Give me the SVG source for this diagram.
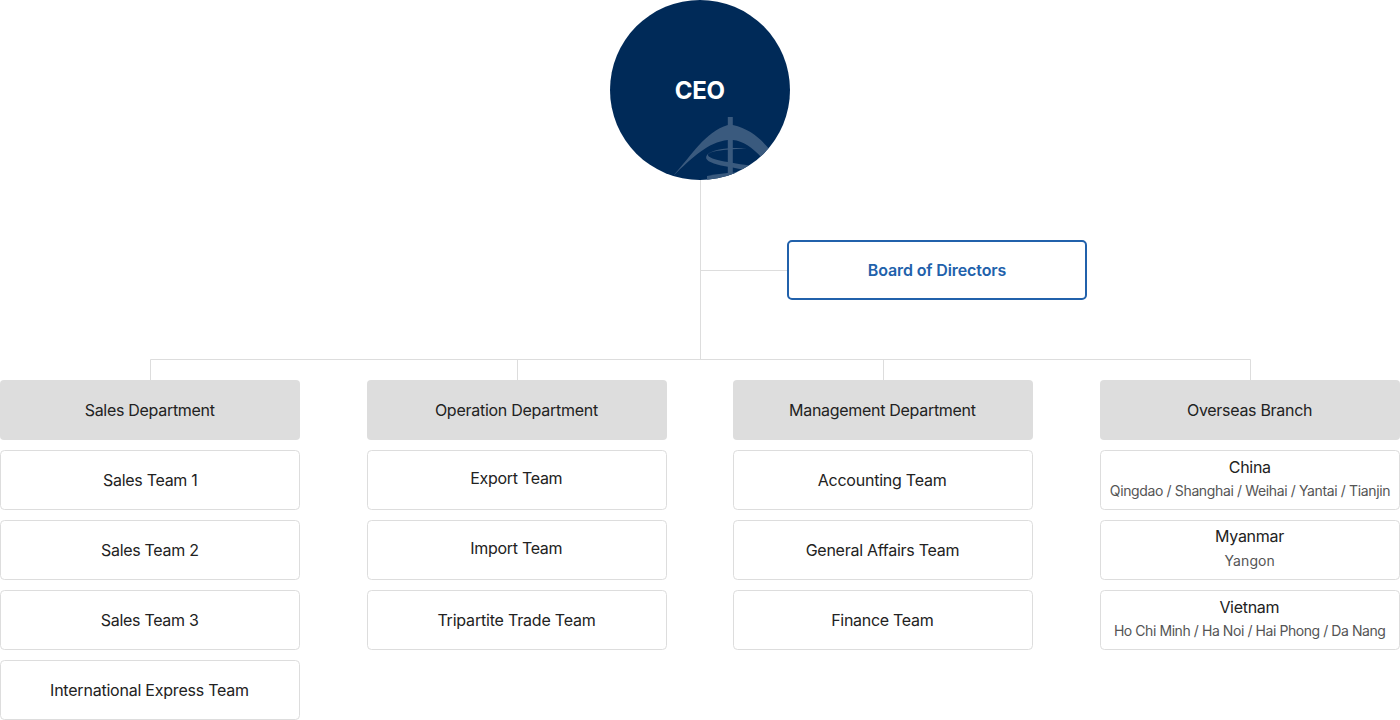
<svg xmlns="http://www.w3.org/2000/svg" width="1400" height="720" viewBox="0 0 1400 720">
<style>
text{font-family:Inter,"Liberation Sans",sans-serif;text-anchor:middle;font-size:16px;fill:#222;letter-spacing:-0.3px}
.box{fill:#fff;stroke:#ddd;stroke-width:1}
.dept{fill:#ddd}
.line{fill:none;stroke:#ddd;stroke-width:1}
.sub{font-size:14px;fill:#555;letter-spacing:-0.37px}
</style>
<defs><clipPath id="cc"><circle cx="700" cy="90" r="90"/></clipPath></defs>
<rect width="1400" height="720" fill="#fff"/>
<g id="connectors" class="line">
<path class="line" d="M700.500 180V360M700.500 270.500H788M150.500 380V359.500H1250.500V380M517.500 360V380M883.500 360V380"/>
</g>
<g id="ceo">
<circle cx="700" cy="90" r="90" fill="#002a58"/>
<g clip-path="url(#cc)" fill="#3a5a7e">
<path d="M727.800 117H732.800V125C750 129 760 138 770 150L762 158C752 147 743 141 732.800 140V180H727.800V140C708 142 692 158 673 176C692 155 705 132 727.800 125Z"/>
<path d="M747 148.500C728 149 708 151 708 155C708 160 735 163 758 167L756 172C735 167 700 165 707 155C712 149 730 147 747 148.500Z"/>
<path d="M707 176C720 173.500 735 172 748 172L752 180H707Z"/>
</g>
<text x="699.800" y="98.500" style="font-size:24px;font-weight:700;fill:#fff">CEO</text>
</g>
<g id="board">
<rect x="788" y="241" width="298" height="58" rx="4" fill="#fff" stroke="#2161ab" stroke-width="2"/>
<text x="937" y="276" style="font-weight:600;fill:#2161ab;letter-spacing:-0.12px">Board of Directors</text>
</g>
<g id="dept-sales"><rect class="dept" x="0" y="380" width="300" height="60" rx="4"/><text x="149.700" y="416">Sales Department</text></g>
<g id="dept-operation"><rect class="dept" x="367" y="380" width="300" height="60" rx="4"/><text x="516.400" y="416" style="letter-spacing:-0.27px">Operation Department</text></g>
<g id="dept-management"><rect class="dept" x="733" y="380" width="300" height="60" rx="4"/><text x="882.400" y="416">Management Department</text></g>
<g id="dept-overseas"><rect class="dept" x="1100" y="380" width="300" height="60" rx="4"/><text x="1249.600" y="416">Overseas Branch</text></g>
<g id="sales1"><rect class="box" x="0.500" y="450.500" width="299" height="59" rx="4"/><text x="150.300" y="486">Sales Team 1</text></g>
<g id="sales2"><rect class="box" x="0.500" y="520.500" width="299" height="59" rx="4"/><text x="149.800" y="556">Sales Team 2</text></g>
<g id="sales3"><rect class="box" x="0.500" y="590.500" width="299" height="59" rx="4"/><text x="149.700" y="626">Sales Team 3</text></g>
<g id="sales4"><rect class="box" x="0.500" y="660.500" width="299" height="59" rx="4"/><text x="149.500" y="696" style="letter-spacing:-0.22px">International Express Team</text></g>
<g id="op1"><rect class="box" x="367.500" y="450.500" width="299" height="59" rx="4"/><text x="516.300" y="484">Export Team</text></g>
<g id="op2"><rect class="box" x="367.500" y="520.500" width="299" height="59" rx="4"/><text x="516.300" y="554">Import Team</text></g>
<g id="op3"><rect class="box" x="367.500" y="590.500" width="299" height="59" rx="4"/><text x="516.500" y="626" style="letter-spacing:-0.2px">Tripartite Trade Team</text></g>
<g id="mg1"><rect class="box" x="733.500" y="450.500" width="299" height="59" rx="4"/><text x="882.100" y="486" style="letter-spacing:-0.24px">Accounting Team</text></g>
<g id="mg2"><rect class="box" x="733.500" y="520.500" width="299" height="59" rx="4"/><text x="882.500" y="556" style="letter-spacing:-0.26px">General Affairs Team</text></g>
<g id="mg3"><rect class="box" x="733.500" y="590.500" width="299" height="59" rx="4"/><text x="882.300" y="626">Finance Team</text></g>
<g id="os1"><rect class="box" x="1100.500" y="450.500" width="299" height="59" rx="4"/><text x="1249.800" y="473">China</text><text class="sub" x="1250" y="496">Qingdao / Shanghai / Weihai / Yantai / Tianjin</text></g>
<g id="os2"><rect class="box" x="1100.500" y="520.500" width="299" height="59" rx="4"/><text x="1249.500" y="542">Myanmar</text><text class="sub" x="1249.700" y="566" style="letter-spacing:0.1px">Yangon</text></g>
<g id="os3"><rect class="box" x="1100.500" y="590.500" width="299" height="59" rx="4"/><text x="1249.300" y="613">Vietnam</text><text class="sub" x="1249.700" y="636" style="letter-spacing:-0.43px">Ho Chi Minh / Ha Noi / Hai Phong / Da Nang</text></g>
</svg>
